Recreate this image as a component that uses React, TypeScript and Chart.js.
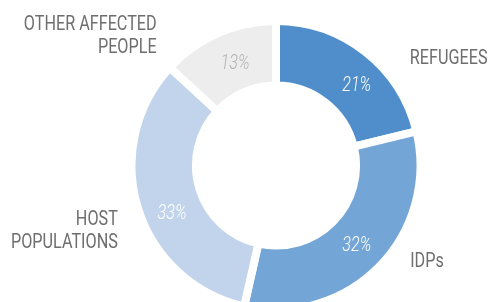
import React, { useEffect, useRef } from "react";
import { Chart, registerables } from "chart.js";

Chart.register(...registerables);

// ---- data ----
const categories = ["REFUGEES", "IDPs", "HOST POPULATIONS", "OTHER AFFECTED PEOPLE"];
const categoryLines = [["REFUGEES"], ["IDPs"], ["HOST", "POPULATIONS"], ["OTHER AFFECTED", "PEOPLE"]];
const shares = [21, 32, 33, 13];

// ---- styles / layout ----
const sliceColors = ["#4F8ECB", "#73A5D6", "#C2D4EC", "#ECEDEC"];
const pctColors = ["#FFFFFF", "#FFFFFF", "#FFFFFF", "#B3B3B3"];
const nameColor = "#6E6E6E";
const CONDENSE = 0.81;
const FONT_SIZE = 20;
const CAP = 0.711 * FONT_SIZE;
const LINE_HEIGHT = 23.5;
const FONT_FAMILY = "Roboto, 'Noto Sans', sans-serif";
// label offsets relative to the slice's mid-angle point (layout only)
const nameOffsets = [
  { dx: 47, dy: 1.5, align: "left" },
  { dx: 34, dy: -4.4, align: "left" },
  { dx: -24, dy: 22, align: "right" },
  { dx: -63, dy: -2.5, align: "right" },
];
const pctOffsets = [
  { dx: 11.3, dy: 6.5 },
  { dx: 0.7, dy: 0 },
  { dx: 3.2, dy: 12.9 },
  { dx: 4, dy: -0.5 },
];
const BORDER = 8;

function drawCondensed(ctx: CanvasRenderingContext2D, text: string, x: number, y: number, align: CanvasTextAlign) {
  ctx.save();
  ctx.translate(x, y + CAP / 2);
  ctx.scale(CONDENSE, 1);
  ctx.textAlign = align;
  ctx.textBaseline = "alphabetic";
  ctx.fillText(text, 0, 0);
  ctx.restore();
}

const labelPlugin = {
  id: "sliceLabels",
  afterDatasetsDraw(chart: any) {
    const ctx: CanvasRenderingContext2D = chart.ctx;
    const meta = chart.getDatasetMeta(0);
    meta.data.forEach((arc: any, i: number) => {
      const { x, y, startAngle, endAngle, innerRadius, outerRadius } = arc.getProps(
        ["x", "y", "startAngle", "endAngle", "innerRadius", "outerRadius"],
        true
      );
      const mid = (startAngle + endAngle) / 2;
      const visOuter = outerRadius - BORDER / 2;
      const visInner = innerRadius + BORDER / 2;
      const rMid = (visOuter + visInner) / 2;
      // percentage
      ctx.fillStyle = pctColors[i];
      ctx.font = `italic 300 ${FONT_SIZE}px ${FONT_FAMILY}`;
      const px = x + Math.cos(mid) * rMid + pctOffsets[i].dx;
      const py = y + Math.sin(mid) * rMid + pctOffsets[i].dy;
      drawCondensed(ctx, `${shares[i]}%`, px, py, "center");
      // category name
      ctx.fillStyle = nameColor;
      ctx.font = `400 ${FONT_SIZE}px ${FONT_FAMILY}`;
      const ox = x + Math.cos(mid) * visOuter + nameOffsets[i].dx;
      const oy = y + Math.sin(mid) * visOuter + nameOffsets[i].dy;
      const lines = categoryLines[i];
      lines.forEach((ln, k) => {
        const ly = oy + (k - (lines.length - 1) / 2) * LINE_HEIGHT;
        drawCondensed(ctx, ln, ox, ly, nameOffsets[i].align as CanvasTextAlign);
      });
    });
  },
};

export default function App() {
  const ref = useRef<HTMLCanvasElement | null>(null);
  useEffect(() => {
    if (!ref.current) return;
    const chart = new Chart(ref.current, {
      type: "doughnut",
      data: {
        labels: categories,
        datasets: [
          {
            data: shares,
            backgroundColor: sliceColors,
            borderColor: "#FFFFFF",
            borderWidth: BORDER,
            borderJoinStyle: "miter",
            radius: 144.5,
            clip: false,
          } as any,
        ],
      },
      options: {
        animation: false,
        responsive: false,
        cutout: "55.4%",
        layout: { padding: { left: 64, right: 0, top: 29, bottom: 0 } },
        plugins: {
          legend: { display: false },
          tooltip: { enabled: false },
        },
        events: [],
      } as any,
      plugins: [labelPlugin],
    });
    return () => chart.destroy();
  }, []);
  return (
    <div style={{ position: "fixed", left: 0, top: 0, width: 488, height: 302, overflow: "hidden", background: "#fff" }}>
      <canvas ref={ref} width={488} height={302} style={{ width: 488, height: 302, display: "block" }} />
    </div>
  );
}
